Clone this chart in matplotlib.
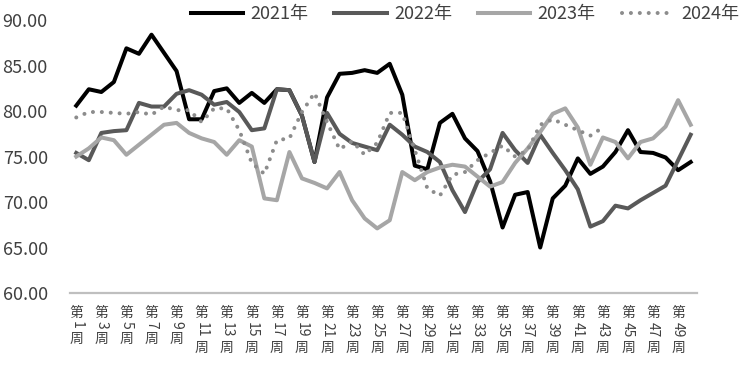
import numpy as np
import matplotlib
matplotlib.use("Agg")
import matplotlib.pyplot as plt

plt.rcParams['font.family'] = ['Noto Sans CJK SC', 'DejaVu Sans']

# Weekly values
weeks = list(range(1, 51))
y2021 = [80.6, 82.4, 82.1, 83.2, 86.9, 86.3, 88.4, 86.4, 84.4, 79.1,
         79.1, 82.2, 82.5, 80.9, 82.0, 80.9, 82.4, 82.3, 79.5, 74.4,
         81.5, 84.1, 84.2, 84.5, 84.2, 85.2, 81.8, 74.0, 73.6, 78.7,
         79.7, 77.0, 75.6, 72.3, 67.2, 70.8, 71.1, 65.0, 70.4, 71.8,
         74.8, 73.1, 73.9, 75.5, 77.9, 75.5, 75.4, 74.9, 73.5, 74.4]
y2022 = [75.4, 74.6, 77.6, 77.8, 77.9, 80.9, 80.5, 80.5, 81.9, 82.3,
         81.8, 80.7, 81.0, 79.9, 77.9, 78.1, 82.4, 82.3, 79.5, 74.4,
         79.8, 77.5, 76.5, 76.1, 75.7, 78.5, 77.4, 76.1, 75.5, 74.4,
         71.3, 68.9, 72.2, 73.6, 77.6, 75.7, 74.3, 77.4, 75.4, 73.5,
         71.4, 67.3, 67.9, 69.6, 69.3, 70.2, 71.0, 71.8, 74.6, 77.4]
y2023 = [75.0, 75.9, 77.1, 76.8, 75.2, 76.3, 77.4, 78.5, 78.7, 77.6,
         77.0, 76.6, 75.2, 76.8, 76.1, 70.4, 70.2, 75.5, 72.6, 72.1,
         71.5, 73.3, 70.2, 68.2, 67.1, 68.0, 73.3, 72.4, 73.3, 73.8,
         74.1, 73.9, 72.8, 71.7, 72.2, 74.3, 75.9, 77.7, 79.7, 80.3,
         78.2, 74.1, 77.1, 76.6, 74.8, 76.6, 77.0, 78.3, 81.2, 78.5]
y2024 = [79.3, 79.9, 79.9, 79.8, 79.7, 79.9, 79.6, 80.5, 80.1, 80.1,
         78.8, 80.3, 80.3, 77.9, 74.3, 73.1, 76.8, 77.0, 79.9, 82.0,
         78.8, 75.8, 76.7, 75.2, 76.5, 79.8, 79.8, 75.7, 71.5, 70.7,
         73.0, 73.3, 74.6, 75.4, 76.2, 75.0, 75.7, 78.5, 79.1, 78.5,
         77.9, 77.3, 78.2]
label_weeks = list(range(1, 50, 2))
y_ticks = [60, 65, 70, 75, 80, 85, 90]

fig = plt.figure(figsize=(7.43, 3.73), dpi=100)
ax = fig.add_axes([0.0942, 0.2145, 0.8438, 0.7315])

lw = 2.9
ax.plot(weeks, y2021, color='#000000', lw=lw, label='2021年')
ax.plot(weeks, y2022, color='#595959', lw=lw, label='2022年')
ax.plot(weeks, y2023, color='#A6A6A6', lw=lw, label='2023年')
ax.plot(weeks[:len(y2024)], y2024, color='#8C8C8C', lw=lw,
        linestyle=(0, (0.01, 2.2)), dash_capstyle='round', label='2024年')

ax.set_xlim(0.5, 50.5)
ax.set_ylim(60, 90)
ax.set_yticks(y_ticks)
ax.set_yticklabels(['%.2f' % v for v in y_ticks], fontsize=13, color='#404040')
ax.tick_params(axis='y', length=0, pad=16)
ax.set_xticks([])

for side in ['top', 'right', 'left']:
    ax.spines[side].set_visible(False)
ax.spines['bottom'].set_color('#BFBFBF')
ax.spines['bottom'].set_linewidth(1.6)

# stacked week labels: 第 upright, number turned, 周 upright
for w in label_weeks:
    two = w >= 10
    kw = dict(xycoords=('data', 'axes fraction'), textcoords='offset pixels',
              ha='center', va='center', fontsize=10, color='#404040')
    ax.annotate('第', xy=(w, 0), xytext=(0, -20), **kw)
    ax.annotate(str(w), xy=(w, 0), xytext=(0, -36.5 if two else -32),
                rotation=-90, **kw)
    ax.annotate('周', xy=(w, 0), xytext=(0, -54.5 if two else -45.5), **kw)

fig.legend(loc='center right', bbox_to_anchor=(1.0, 0.962), ncol=4,
           frameon=False, fontsize=13, handlelength=2.9, handletextpad=0.4,
           columnspacing=1.45, borderpad=0, borderaxespad=0.2,
           labelcolor='#404040')

plt.savefig('out.png', dpi=100)
